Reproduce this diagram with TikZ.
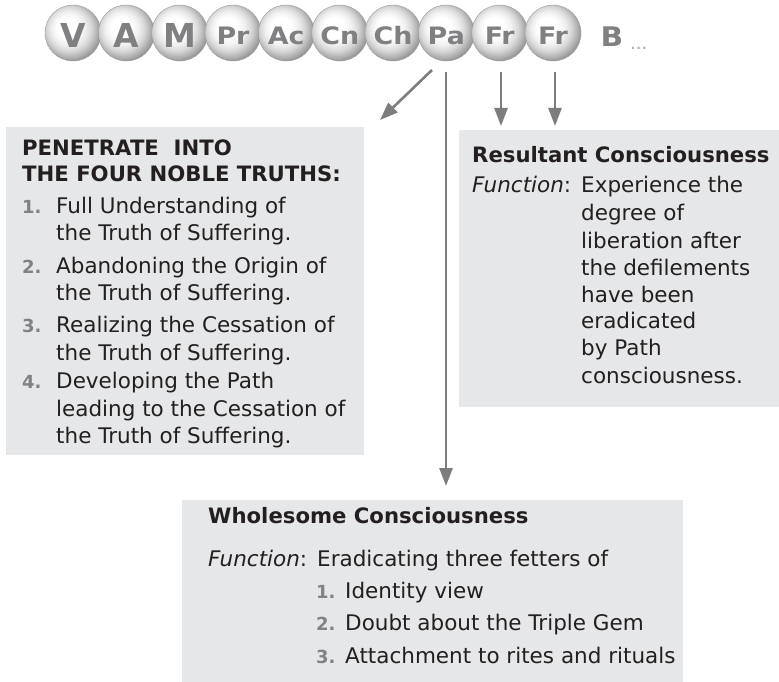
\documentclass[tikz,border=0pt]{standalone}
\usepackage{fontspec}
\usepackage{graphicx}
\setmainfont{DejaVu Sans}
\usetikzlibrary{arrows.meta}
\definecolor{boxfill}{RGB}{230,231,232}
\definecolor{textblack}{RGB}{35,31,32}
\definecolor{numgray}{RGB}{128,130,133}
\definecolor{arrowgray}{RGB}{125,125,128}
\definecolor{lettergray}{RGB}{128,128,131}
\pgfdeclareradialshading{sphereshade}{\pgfpoint{-6bp}{6bp}}{%
  color(0bp)=(white); color(9bp)=(white); color(15bp)=(black!6);
  color(20bp)=(black!16); color(25bp)=(black!32); color(30bp)=(black!50);
  color(50bp)=(black!50)}
\begin{document}
\begin{tikzpicture}[x=1pt,y=-1pt,
  ball/.style={circle, minimum size=56pt, inner sep=0pt, shading=sphereshade, draw=black!40, line width=0.4pt},
  bigletter/.style={inner sep=0pt, text=lettergray, font=\fontsize{33}{33}\selectfont\bfseries},
  smallletter/.style={inner sep=0pt, text=lettergray, font=\fontsize{24}{24}\selectfont\bfseries},
  box/.style={fill=boxfill, draw=none, anchor=north west, inner sep=0pt},
  txt/.style={anchor=base west, inner sep=0pt, text=textblack, font=\fontsize{21.5}{27}\selectfont},
  ttl/.style={txt, font=\fontsize{21.2}{27}\selectfont\bfseries},
  num/.style={anchor=base west, inner sep=0pt, text=numgray, font=\fontsize{18}{18}\selectfont\bfseries},
  arr/.style={draw=arrowgray, line width=2.6pt, -{Triangle[length=18pt,width=13pt]}}
]
\useasboundingbox (0,0) rectangle (779,682);

% spheres
\foreach \n/\x in {V/73,A/126.3,M/179.7,Pr/233,Ac/286.3,Cn/339.7,Ch/393,Pa/446.3,FrA/499.7,FrB/553}{
  \node[ball] (\n) at (\x,33) {};
}
\node[bigletter] (Vt) at (73,35) {V};
\node[bigletter] (At) at (126.3,35) {A};
\node[bigletter] (Mt) at (179.7,35) {M};
\node[smallletter] (Prt) at (233,36) {\scalebox{1.12}[1]{Pr}};
\node[smallletter] (Act) at (286.3,36) {\scalebox{1.12}[1]{Ac}};
\node[smallletter] (Cnt) at (339.7,36) {\scalebox{1.12}[1]{Cn}};
\node[smallletter] (Cht) at (393,36) {\scalebox{1.12}[1]{Ch}};
\node[smallletter] (Pat) at (446.3,36) {\scalebox{1.12}[1]{Pa}};
\node[smallletter] (FrAt) at (499.7,36) {\scalebox{1.12}[1]{Fr}};
\node[smallletter] (FrBt) at (553,36) {\scalebox{1.12}[1]{Fr}};
\node[inner sep=0pt, text=lettergray, font=\fontsize{27}{27}\selectfont\bfseries] (B) at (612,37) {\scalebox{1.1}[1]{B}};
\node[anchor=base west, inner sep=0pt, text=gray!70, font=\fontsize{18}{18}\selectfont] (dots) at (630,50) {...};

% boxes
\node[box, minimum width=358pt, minimum height=328pt] (L) at (6,127) {};
\node[box, minimum width=320pt, minimum height=277pt] (R) at (459,130) {};
\node[box, minimum width=501pt, minimum height=182pt] (W) at (182,500) {};

% arrows
\coordinate (d0) at (432,70);
\coordinate (d1) at (380,120);
\coordinate (p0) at (446,72);
\coordinate (p1) at (446,486);
\coordinate (f0) at (501,72);
\coordinate (f1) at (501,126);
\coordinate (g0) at (555,72);
\coordinate (g1) at (555,126);
\draw[arr] (d0) -- (d1);
\draw[arr] (p0) -- (p1);
\draw[arr] (f0) -- (f1);
\draw[arr] (g0) -- (g1);

% left box text
\node[ttl] (t1) at (22,155) {PENETRATE\ \ INTO};
\node[ttl] (t2) at (22,182) {THE FOUR NOBLE TRUTHS:};
\node[num] (n1) at (22,213) {1.};
\node[txt] (l1a) at (56,213) {Full Understanding of};
\node[txt] (l1b) at (56,240) {the Truth of Suffering.};
\node[num] (n2) at (22,273) {2.};
\node[txt] (l2a) at (56,273) {Abandoning the Origin of};
\node[txt] (l2b) at (56,300) {the Truth of Suffering.};
\node[num] (n3) at (22,332) {3.};
\node[txt] (l3a) at (56,332) {Realizing the Cessation of};
\node[txt] (l3b) at (56,360) {the Truth of Suffering.};
\node[num] (n4) at (22,388) {4.};
\node[txt] (l4a) at (56,388) {Developing the Path};
\node[txt] (l4b) at (56,416) {leading to the Cessation of};
\node[txt] (l4c) at (56,443) {the Truth of Suffering.};

% right box text
\node[ttl] (rt) at (472,162) {Resultant Consciousness};
\node[txt] (rf) at (472,193) {\textit{Function}:};
\node[txt] (r1) at (581,193) {Experience the};
\node[txt] (r2) at (581,220) {degree of};
\node[txt] (r3) at (581,248) {liberation after};
\node[txt] (r4) at (581,275) {the defilements};
\node[txt] (r5) at (581,302) {have been};
\node[txt] (r6) at (581,328) {eradicated};
\node[txt] (r7) at (581,355) {by Path};
\node[txt] (r8) at (581,383) {consciousness.};

% bottom box text
\node[ttl] (wt) at (208,523) {Wholesome Consciousness};
\node[txt] (wf) at (208,566) {\textit{Function}:};
\node[txt] (w0) at (317,566) {Eradicating three fetters of};
\node[num] (m1) at (316,598) {1.};
\node[txt] (w1) at (345,598) {Identity view};
\node[num] (m2) at (316,630) {2.};
\node[txt] (w2) at (345,630) {Doubt about the Triple Gem};
\node[num] (m3) at (316,663) {3.};
\node[txt] (w3) at (345,663) {Attachment to rites and rituals};
\end{tikzpicture}
\end{document}
